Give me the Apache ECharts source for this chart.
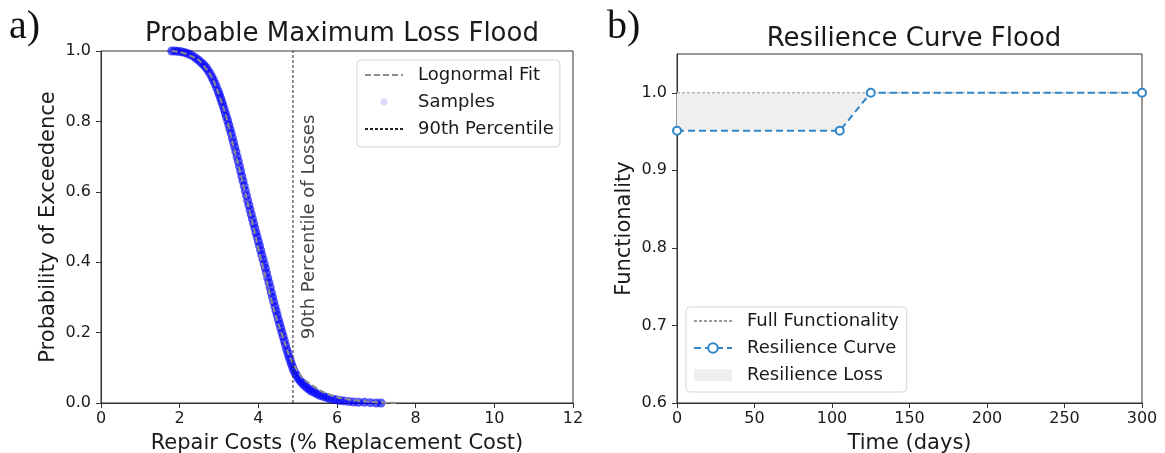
<!DOCTYPE html>
<html>
<head>
<meta charset="utf-8">
<script src="https://cdn.jsdelivr.net/npm/echarts@6/dist/echarts.min.js"></script>
<style>
  html, body { margin: 0; padding: 0; background: #fff; }
  #chart { width: 1165px; height: 453px; }
</style>
</head>
<body>
<div id="chart"></div>
<script>
// a) Probable maximum loss — exceedance curve
const sampleCost = [
  1.80, 1.88, 1.96, 2.04, 2.12, 2.20, 2.28, 2.36, 2.43, 2.50,
  2.56, 2.62, 2.67, 2.72, 2.77, 2.82, 2.86, 2.90, 2.94, 2.98,
  3.01, 3.04, 3.07, 3.10, 3.13, 3.16, 3.19, 3.22, 3.25, 3.28,
  3.31, 3.34, 3.37, 3.40, 3.43, 3.46, 3.49, 3.52, 3.55, 3.58,
  3.61, 3.64, 3.67, 3.70, 3.73, 3.76, 3.79, 3.82, 3.85, 3.88,
  3.91, 3.94, 3.97, 4.00, 4.03, 4.06, 4.09, 4.12, 4.15, 4.18,
  4.21, 4.24, 4.27, 4.30, 4.33, 4.36, 4.39, 4.42, 4.45, 4.48,
  4.51, 4.54, 4.57, 4.60, 4.63, 4.66, 4.69, 4.72, 4.75, 4.78,
  4.81, 4.84, 4.87, 4.90, 4.94, 4.98, 5.02, 5.07, 5.12, 5.17,
  5.23, 5.29, 5.35, 5.42, 5.49, 5.56, 5.64, 5.72, 5.80, 5.89,
  5.98, 6.08, 6.18, 6.30, 6.42, 6.55, 6.70, 6.85, 7.00, 7.12
];
const sampleProb = [
  1.000, 1.000, 0.999, 0.998, 0.996, 0.993, 0.989, 0.984, 0.978, 0.972,
  0.966, 0.960, 0.953, 0.945, 0.936, 0.926, 0.917, 0.907, 0.896, 0.885,
  0.876, 0.866, 0.856, 0.846, 0.835, 0.824, 0.813, 0.802, 0.790, 0.778,
  0.766, 0.753, 0.740, 0.727, 0.714, 0.700, 0.687, 0.673, 0.659, 0.645,
  0.631, 0.617, 0.603, 0.589, 0.575, 0.562, 0.549, 0.536, 0.523, 0.510,
  0.497, 0.484, 0.472, 0.459, 0.447, 0.434, 0.421, 0.408, 0.395, 0.382,
  0.369, 0.355, 0.342, 0.328, 0.314, 0.301, 0.288, 0.275, 0.262, 0.250,
  0.237, 0.225, 0.213, 0.201, 0.189, 0.177, 0.165, 0.153, 0.142, 0.131,
  0.121, 0.111, 0.102, 0.093, 0.084, 0.077, 0.069, 0.062, 0.056, 0.050,
  0.044, 0.039, 0.034, 0.030, 0.026, 0.022, 0.019, 0.016, 0.013, 0.011,
  0.009, 0.007, 0.006, 0.004, 0.003, 0.002, 0.002, 0.001, 0.000, 0.000
];
const fitCost = [1.8, 2.2, 2.6, 3.0, 3.4, 3.8, 4.2, 4.6, 5.0, 5.4, 5.8, 6.2, 6.6, 7.0, 7.5];
const fitProb = [1.0, 0.99, 0.96, 0.875, 0.715, 0.535, 0.35, 0.195, 0.09, 0.048, 0.024, 0.012, 0.006, 0.002, 0.0];
const p90Cost = 4.88;
const p90Label = '90th Percentile of Losses';
const p90LabelPos = [5.3, 0.5];
const costTicks = [0, 2, 4, 6, 8, 10, 12];
const probTicks = [0, 0.2, 0.4, 0.6, 0.8, 1.0];

// b) Resilience curve
const timeDays = [0, 105, 125, 300];
const functionality = [0.951, 0.951, 1.0, 1.0];
const fullLevel = 1.0;
const timeTicks = [0, 50, 100, 150, 200, 250, 300];
const funcTicks = [0.6, 0.7, 0.8, 0.9, 1.0];

const FONT = 'DejaVu Sans';
const INK = '#1a1a1a';
const NO_MARK = { color: 'rgba(0,0,0,0)', borderWidth: 0 };

const zip = (xs, ys) => xs.map((x, i) => [x, ys[i]]);
const lossIdx = functionality.findIndex(v => v >= fullLevel);
const lossData = zip(timeDays, functionality).slice(0, lossIdx + 1);

function valueAxis(gridIndex, min, max, ticks, name, gap, isX) {
  return {
    type: 'value', gridIndex, min, max, name,
    nameLocation: 'middle', nameGap: gap,
    nameTextStyle: { fontFamily: FONT, fontSize: 21, color: INK },
    axisLine: { show: true, onZero: false, lineStyle: { color: '#333', width: 1 } },
    axisTick: { show: true, length: 5, customValues: ticks, lineStyle: { color: '#333' } },
    axisLabel: {
      customValues: ticks, margin: isX ? 8 : 10,
      fontFamily: FONT, fontSize: 16, color: INK,
      formatter: v => isX ? String(v) : v.toFixed(1)
    },
    splitLine: { show: false }
  };
}

function legendBox(left, top, itemHeight, padding, data) {
  return {
    orient: 'vertical', left, top,
    itemWidth: 38, itemHeight, itemGap: 9, padding,
    borderColor: '#d6d6d6', borderWidth: 1, borderRadius: 4,
    backgroundColor: 'rgba(255,255,255,0.8)',
    textStyle: { fontFamily: FONT, fontSize: 18, color: INK, padding: [0, 0, 0, 10] },
    data
  };
}

function plotGrid(left, right, top, bottom) {
  return {
    left, right, top, bottom,
    containLabel: false, outerBoundsMode: 'none',
    show: true, borderColor: '#333', borderWidth: 1, backgroundColor: 'transparent'
  };
}

const chart = echarts.init(document.getElementById('chart'));
chart.setOption({
  animation: false,
  backgroundColor: '#fff',
  title: [
    { text: 'Probable Maximum Loss Flood', left: 337, top: 16, textAlign: 'center',
      textStyle: { fontFamily: FONT, fontSize: 26, fontWeight: 'normal', color: INK } },
    { text: 'Resilience Curve Flood', left: 909, top: 21, textAlign: 'center',
      textStyle: { fontFamily: FONT, fontSize: 26, fontWeight: 'normal', color: INK } }
  ],
  graphic: [
    { type: 'text', left: 9, top: 7, style: { text: 'a)', font: '40px "Liberation Serif"', fill: '#111' } },
    { type: 'text', left: 607, top: 7, style: { text: 'b)', font: '40px "Liberation Serif"', fill: '#111' } }
  ],
  grid: [
    plotGrid(101, 592, 51, 50),
    plotGrid(677, 23, 54, 50)
  ],
  xAxis: [
    valueAxis(0, 0, 12, costTicks, 'Repair Costs (% Replacement Cost)', 30, true),
    valueAxis(1, 0, 300, timeTicks, 'Time (days)', 30, true)
  ],
  yAxis: [
    valueAxis(0, 0, 1, probTicks, 'Probability of Exceedence', 42, false),
    valueAxis(1, 0.6, 1.05, funcTicks, 'Functionality', 42, false)
  ],
  legend: [
    legendBox(357, 60, 7, [6, 6, 9, 7], [
      { name: 'Lognormal Fit', itemStyle: NO_MARK },
      { name: 'Samples', icon: 'circle', itemStyle: { color: 'rgba(90,90,255,0.28)' } },
      { name: '90th Percentile', itemStyle: NO_MARK }
    ]),
    legendBox(686, 307, 12, [5, 8, 8, 7], [
      { name: 'Full Functionality', itemStyle: NO_MARK },
      { name: 'Resilience Curve' },
      { name: 'Resilience Loss', icon: 'rect', itemStyle: { color: '#efefef' } }
    ])
  ],
  series: [
    {
      name: 'Lognormal Fit', type: 'line', xAxisIndex: 0, yAxisIndex: 0,
      data: zip(fitCost, fitProb), smooth: true, symbol: 'none',
      lineStyle: { color: '#8c8c8c', width: 2, type: [6, 3] },
      itemStyle: { color: '#8c8c8c' }
    },
    {
      name: 'Samples', type: 'scatter', xAxisIndex: 0, yAxisIndex: 0,
      data: zip(sampleCost, sampleProb), symbolSize: 9,
      itemStyle: { color: 'rgba(0,0,255,0.8)' }
    },
    {
      name: '90th Percentile', type: 'line', xAxisIndex: 0, yAxisIndex: 0,
      data: [[p90Cost, 0], [p90Cost, 1]], symbol: 'none',
      lineStyle: { color: '#222', width: 1, type: [3, 2] },
      itemStyle: { color: '#222' }
    },
    {
      name: 'p90 label', type: 'scatter', xAxisIndex: 0, yAxisIndex: 0,
      data: [p90LabelPos], symbolSize: 0, silent: true,
      label: {
        show: true, position: 'inside', rotate: 90, formatter: p90Label,
        fontFamily: FONT, fontSize: 18, color: '#111'
      }
    },
    {
      name: 'Resilience Loss', type: 'line', xAxisIndex: 1, yAxisIndex: 1,
      data: lossData, symbol: 'none',
      lineStyle: { width: 0, opacity: 0 },
      areaStyle: { color: '#efefef', opacity: 1, origin: fullLevel },
      itemStyle: { color: '#efefef' }, z: 1
    },
    {
      name: 'Full Functionality', type: 'line', xAxisIndex: 1, yAxisIndex: 1,
      data: [[0, fullLevel], [300, fullLevel]], symbol: 'none',
      lineStyle: { color: '#9a9a9a', width: 1, type: [3, 2] },
      itemStyle: { color: '#9a9a9a' }, z: 2
    },
    {
      name: 'Resilience Curve', type: 'line', xAxisIndex: 1, yAxisIndex: 1,
      data: zip(timeDays, functionality),
      symbol: 'emptyCircle', symbolSize: 8,
      lineStyle: { color: '#2f86c8', width: 2, type: [7, 4] },
      itemStyle: { color: '#2f86c8', borderWidth: 1.5 }, z: 3
    }
  ]
});
</script>
</body>
</html>
